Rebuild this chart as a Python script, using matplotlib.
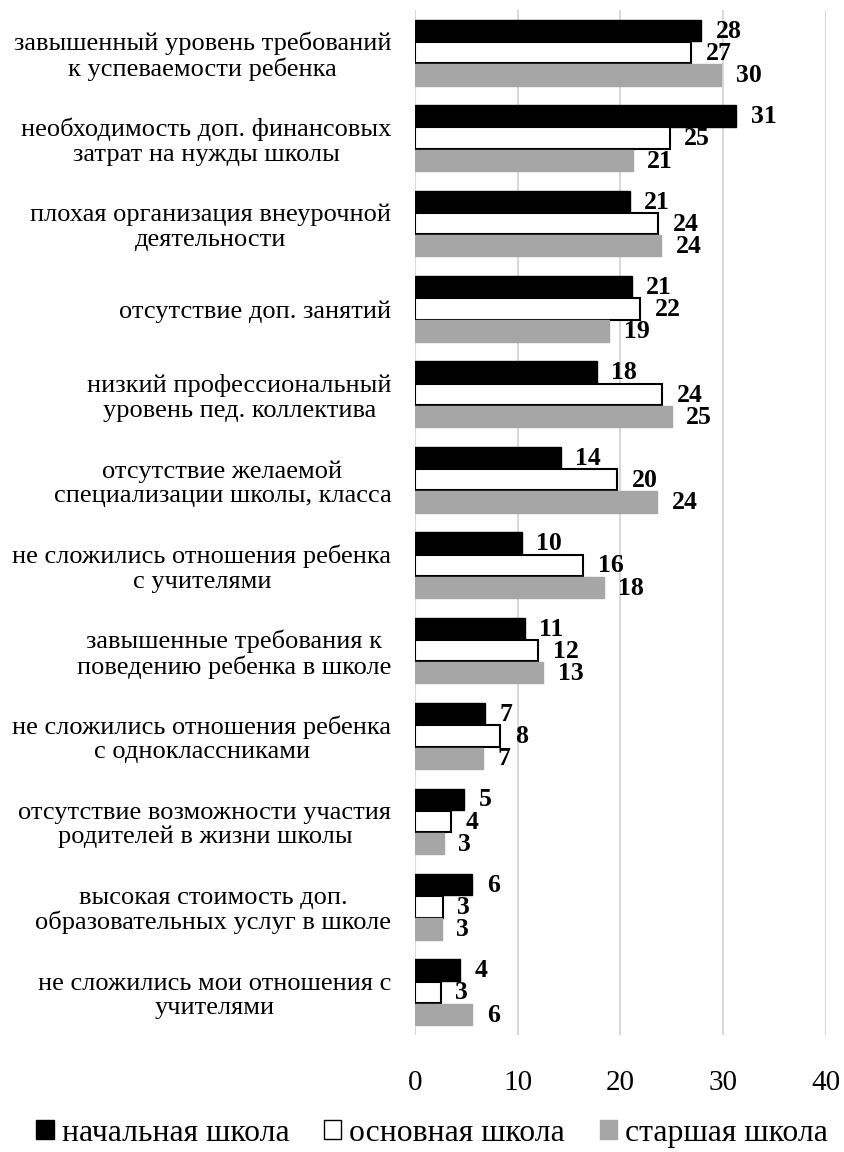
import matplotlib
matplotlib.use('Agg')
import matplotlib.pyplot as plt
from matplotlib.patches import Patch
import numpy as np

plt.rcParams['font.family'] = ['Liberation Serif', 'DejaVu Serif']

# ----------------------------------------------------------------------------
# data
# ----------------------------------------------------------------------------
categories = [
    'завышенный уровень требований\nк успеваемости ребенка',
    'необходимость доп. финансовых\nзатрат на нужды школы',
    'плохая организация внеурочной\nдеятельности',
    'отсутствие доп. занятий',
    'низкий профессиональный\nуровень пед. коллектива',
    'отсутствие желаемой\nспециализации школы, класса',
    'не сложились отношения ребенка\nс учителями',
    'завышенные требования к\nповедению ребенка в школе',
    'не сложились отношения ребенка\nс одноклассниками',
    'отсутствие возможности участия\nродителей в жизни школы',
    'высокая стоимость доп.\nобразовательных услуг в школе',
    'не сложились мои отношения с\nучителями',
]
series_names = ['начальная школа', 'основная школа', 'старшая школа']
primary = [27.9, 31.3, 20.9, 21.1, 17.7, 14.2, 10.4, 10.7, 6.8, 4.8, 5.6, 4.4]
basic = [26.9, 24.8, 23.7, 21.9, 24.1, 19.7, 16.4, 12.0, 8.3, 3.5, 2.7, 2.5]
senior = [29.8, 21.2, 24.0, 18.9, 25.0, 23.6, 18.4, 12.5, 6.6, 2.8, 2.6, 5.6]
x_ticks = [0, 10, 20, 30, 40]

# ----------------------------------------------------------------------------
# figure
# ----------------------------------------------------------------------------
fig = plt.figure(figsize=(8.44, 11.52), dpi=100)
ax = fig.add_axes([0.4917, 0.1016, 0.4866, 0.8897])

y = np.arange(len(categories))
h = 0.25
step = 0.26
styles = [
    dict(color='black', edgecolor='black', linewidth=1.0),
    dict(color='white', edgecolor='black', linewidth=1.5),
    dict(color='#a6a6a6', edgecolor='#a6a6a6', linewidth=1.0),
]

for k, (vals, st) in enumerate(zip([primary, basic, senior], styles)):
    pos = y + (k - 1) * step
    ax.barh(pos, vals, height=h, zorder=3, **st)
    for p, v in zip(pos, vals):
        ax.annotate(f'{int(np.floor(v + 0.5))}', xy=(v, p), xytext=(10.5, -0.5),
                    textcoords='offset points', ha='left', va='center',
                    fontsize=18.5, fontweight='bold', zorder=4)

ax.set_xlim(0, 40)
ax.set_ylim(len(categories) - 0.5, -0.5)
ax.set_xticks(x_ticks)
ax.set_yticks(y)
ax.set_yticklabels(categories, fontsize=19, linespacing=1.13)
for lbl in ax.get_yticklabels():
    lbl.set_multialignment('center')
ax.tick_params(axis='y', length=0, pad=17)
ax.tick_params(axis='x', length=0, pad=25, labelsize=21)

ax.grid(True, axis='x', color='#d9d9d9', linewidth=1.5, zorder=0)
for s in ax.spines.values():
    s.set_visible(False)

handles = [Patch(facecolor=st['color'], edgecolor=st['edgecolor'], linewidth=1.0)
           for st in styles]
fig.legend(handles, series_names, loc='lower center', ncol=3,
           bbox_to_anchor=(0.512, -0.021), frameon=False,
           prop=dict(size=22.8),
           handlelength=0.55, handleheight=0.55, handletextpad=0.25,
           columnspacing=1.1)

fig.savefig('out.png', dpi=100)
